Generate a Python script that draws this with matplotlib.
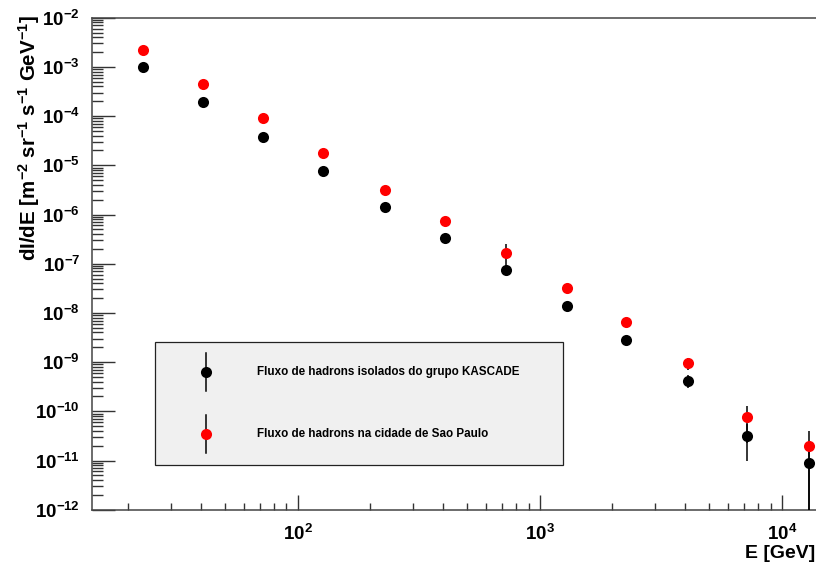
import numpy as np
import matplotlib
matplotlib.use("Agg")
import matplotlib.pyplot as plt
from matplotlib.ticker import LogLocator, FuncFormatter, NullFormatter
from matplotlib.patches import Rectangle

plt.rcParams['font.family'] = ['Liberation Sans', 'DejaVu Sans']
plt.rcParams['font.weight'] = 'bold'
plt.rcParams['mathtext.fontset'] = 'custom'
plt.rcParams['mathtext.rm'] = 'Liberation Sans:bold'
plt.rcParams['mathtext.bf'] = 'Liberation Sans:bold'
plt.rcParams['mathtext.it'] = 'Liberation Sans:bold:italic'

# ---- data ----
energy = [22.9, 40.8, 71.8, 127.8, 229.8, 406.8, 727.8, 1294, 2275, 4091, 7211, 13005]
flux_kascade = [9.8e-4, 1.96e-4, 3.81e-5, 7.76e-6, 1.42e-6, 3.28e-7, 7.45e-8,
                1.38e-8, 2.81e-9, 4.19e-10, 3.22e-11, 9.1e-12]
err_kascade = [0, 0, 0, 0, 0, 0, 0, 0, 0, 1.26e-10, 2.25e-11, 9.0e-12]
flux_sp = [2.20e-3, 4.49e-4, 9.14e-5, 1.75e-5, 3.15e-6, 7.28e-7, 1.67e-7,
           3.21e-8, 6.53e-9, 9.46e-10, 7.55e-11, 2.0e-11]
err_sp = [0, 0, 0, 0, 0, 0, 8.75e-8, 0, 0, 2.65e-10, 5.3e-11, 1.98e-11]
label_kascade = "Fluxo de hadrons isolados do grupo KASCADE"
label_sp = "Fluxo de hadrons na cidade de Sao Paulo"
xlabel = "E [GeV]"
ylabel = r"dI/dE [m$^{-2}$ sr$^{-1}$ s$^{-1}$ GeV$^{-1}$]"

W, H = 816, 571
fig = plt.figure(figsize=(W / 100, H / 100), dpi=100)
axL, axR, axT, axB = 91.7, 816.0, 17.7, 509.7
ax = fig.add_axes([axL / W, 1 - axB / H, (axR - axL) / W, (axB - axT) / H])

ax.set_xscale('log')
ax.set_yscale('log')
dec = 242.1
xmin_log = 2 - (297.5 - axL) / dec
xmax_log = xmin_log + (axR - axL) / dec
ax.set_xlim(10 ** xmin_log, 10 ** xmax_log)
ax.set_ylim(1e-12, 1e-2)

ax.errorbar(energy, flux_kascade, yerr=err_kascade, fmt='o', color='black',
            ecolor='black', elinewidth=1.1, capsize=2.6, capthick=1.1,
            markersize=8, markeredgewidth=0, zorder=3, clip_on=True)
ax.errorbar(energy, flux_sp, yerr=err_sp, fmt='o', color='#ff0000',
            ecolor='black', elinewidth=1.1, capsize=2.6, capthick=1.1,
            markersize=8, markeredgewidth=0, zorder=4, clip_on=True)

# axes styling
for s in ['left', 'bottom', 'top']:
    ax.spines[s].set_color('#444444')
    ax.spines[s].set_linewidth(1.1)
ax.spines['right'].set_visible(False)

ax.yaxis.set_major_locator(LogLocator(base=10, numticks=20))
ax.yaxis.set_minor_locator(LogLocator(base=10, subs=np.arange(2, 10), numticks=200))
ax.xaxis.set_major_locator(LogLocator(base=10, numticks=20))
ax.xaxis.set_minor_locator(LogLocator(base=10, subs=np.arange(2, 10), numticks=200))
fmt = FuncFormatter(lambda v, p: r'$10^{%d}$' % int(round(np.log10(v))))
ax.xaxis.set_major_formatter(fmt)
ax.yaxis.set_major_formatter(fmt)
ax.xaxis.set_minor_formatter(NullFormatter())
ax.yaxis.set_minor_formatter(NullFormatter())

ax.tick_params(axis='both', which='both', direction='in', top=False, right=False,
               color='#333333', width=1.0)
ax.tick_params(axis='y', which='major', length=16.3, pad=8.4, labelsize=13.5)
ax.tick_params(axis='y', which='minor', length=7.7)
ax.tick_params(axis='x', which='major', length=10.6, pad=10.0, labelsize=13.5)
ax.tick_params(axis='x', which='minor', length=5.0)

# axis titles
fig.text(815 / W, 1 - 558 / H, xlabel, ha='right', va='baseline', fontsize=14,
         fontweight='bold')
fig.text(36 / W, 1 - 15 / H, ylabel, rotation=90, rotation_mode='anchor',
         ha='right', va='baseline', fontsize=14.8, fontweight='bold')

# legend box (drawn by hand in axes fraction coordinates)
def fx(px):
    return (px - axL) / (axR - axL)

def fy(py):
    return (axB - py) / (axB - axT)

ax.add_patch(Rectangle((fx(155), fy(465)), fx(562.7) - fx(155), fy(341.7) - fy(465),
                       transform=ax.transAxes, facecolor='#f0f0f0',
                       edgecolor='#222222', linewidth=0.9, zorder=6, clip_on=False))
entries = [(371.7, 'black', label_kascade), (434.0, '#ff0000', label_sp)]
for py, c, lab in entries:
    ax.plot([fx(206), fx(206)], [fy(py - 19), fy(py + 19)], color='black',
            linewidth=1.1, transform=ax.transAxes, zorder=7, clip_on=False)
    ax.plot([fx(206)], [fy(py)], 'o', color=c, markersize=8, markeredgewidth=0,
            transform=ax.transAxes, zorder=8, clip_on=False)
    ax.text(fx(257.3), fy(py), lab, transform=ax.transAxes, ha='left',
            va='center', fontsize=8.35, fontweight='bold', zorder=8)

fig.savefig('out.png', dpi=100, facecolor='white')
